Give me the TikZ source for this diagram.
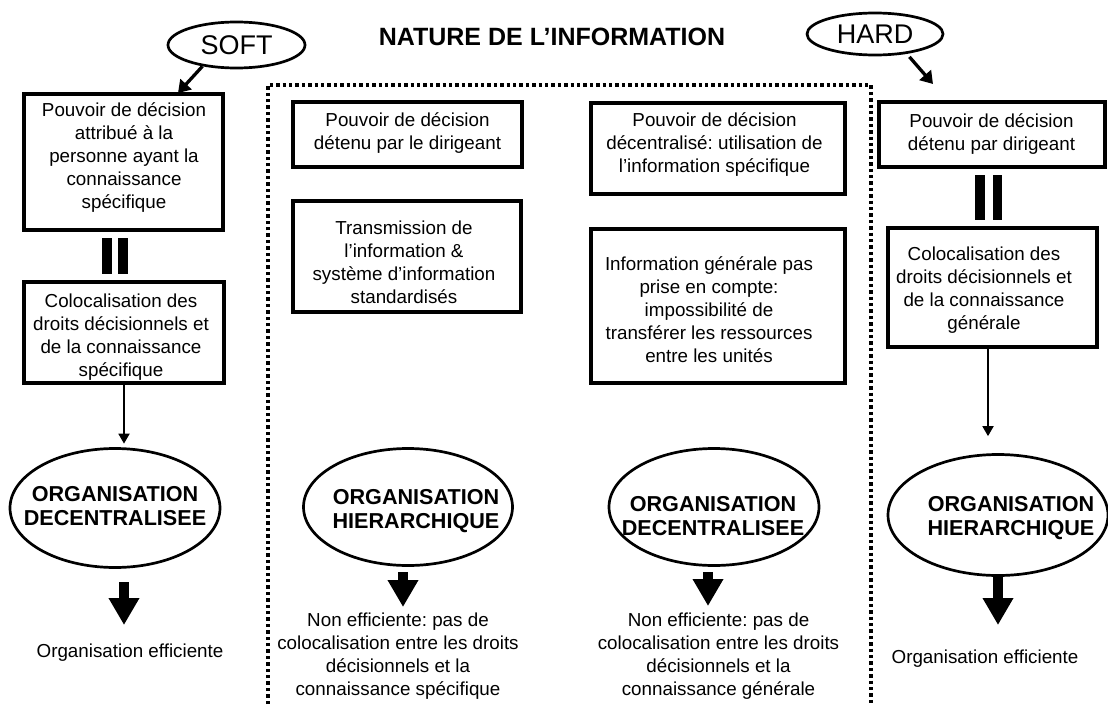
\documentclass[tikz,border=0pt]{standalone}
\usepackage{fontspec}
\setmainfont{Liberation Sans}
\usetikzlibrary{arrows.meta,shapes.geometric}
\frenchspacing
\begin{document}
\begin{tikzpicture}[x=1pt,y=-1pt,
  box/.style={draw, line width=3.3pt, rectangle, inner sep=0pt},
  body/.style={align=center, inner sep=0pt, font=\fontsize{18.8}{23}\selectfont},
  oval/.style={draw, line width=2.7pt, ellipse, inner sep=0pt},
  ovaltxt/.style={align=center, inner sep=0pt, font=\fontsize{21.6}{24}\selectfont\bfseries},
  tag/.style={draw, line width=2.7pt, ellipse, inner sep=0pt, font=\fontsize{27}{30}\selectfont},
  thinarrow/.style={line width=1.8pt, -{Triangle[width=11pt,length=10pt]}},
  tagarrow/.style={line width=3.3pt, -{Triangle[width=15pt,length=12pt]}},
  bigarrow/.style={line width=10pt, -{Triangle[width=29pt,length=27pt]}},
  frameline/.style={line width=3.4pt, dash pattern=on 3.4pt off 3pt},
  bar/.style={fill=black}
]
\useasboundingbox (0,0) rectangle (1108,704);

% title and tags
\node[inner sep=0pt, font=\fontsize{25}{28}\selectfont\bfseries] (title) at (552,37) {NATURE DE L’INFORMATION};
\node[tag, minimum width=137pt, minimum height=46pt] (soft) at (236.5,45) {SOFT};
\node[tag, minimum width=136pt, minimum height=42pt] (hard) at (875,34) {HARD};
\coordinate (softtip) at (178,93);
\coordinate (hardtip) at (933,84);

% dotted frame
\draw[frameline] (268,704) -- (268,85) -- (871,85) -- (871,704);

% ---------- left column ----------
\node[box, minimum width=199pt, minimum height=136pt] (b1) at (123.5,162) {};
\node[body] (b1t) at (124,158) {Pouvoir de décision\\attribué à la\\personne ayant la\\connaissance\\spécifique};
\fill[bar] (102,238) rectangle (112,274);
\fill[bar] (118,238) rectangle (128,274);
\node[box, minimum width=200pt, minimum height=101pt] (b2) at (124,332.5) {};
\node[body] (b2t) at (121,337) {Colocalisation des\\droits décisionnels et\\de la connaissance\\spécifique};
\node[oval, minimum width=210pt, minimum height=119pt] (e1) at (115,508) {};
\node[ovaltxt] (e1t) at (115,506) {ORGANISATION\\DECENTRALISEE};
\coordinate (a1s) at (124,582);
\coordinate (a1e) at (124,625);
\node[body] (t1) at (130,653) {Organisation efficiente};

% ---------- middle left ----------
\node[box, minimum width=229pt, minimum height=65pt] (m1a) at (407.5,134.5) {};
\node[body] (m1at) at (407.5,133.5) {Pouvoir de décision\\détenu par le dirigeant};
\node[box, minimum width=228pt, minimum height=111pt] (m1b) at (407,256.5) {};
\node[body] (m1bt) at (404,262) {Transmission de\\l’information \&\\système d’information\\standardisés};
\node[oval, minimum width=209pt, minimum height=117pt] (em1) at (408,507) {};
\node[ovaltxt] (em1t) at (416,511) {ORGANISATION\\HIERARCHIQUE};
\coordinate (am1s) at (403,572);
\coordinate (am1e) at (403,607);
\node[body] (tm1) at (398,656.5) {Non efficiente: pas de\\colocalisation entre les droits\\décisionnels et la\\connaissance spécifique};

% ---------- middle right ----------
\node[box, minimum width=254pt, minimum height=91pt] (m2a) at (718,148.5) {};
\node[body] (m2at) at (714.5,144.5) {Pouvoir de décision\\décentralisé: utilisation de\\l’information spécifique};
\node[box, minimum width=254pt, minimum height=154pt] (m2b) at (718,306) {};
\node[body] (m2bt) at (709,309.5) {Information générale pas\\prise en compte:\\impossibilité de\\transférer les ressources\\entre les unités};
\node[oval, minimum width=210pt, minimum height=117pt] (em2) at (714,507) {};
\node[ovaltxt] (em2t) at (713,516) {ORGANISATION\\DECENTRALISEE};
\coordinate (am2s) at (708,572);
\coordinate (am2e) at (708,606);
\node[body] (tm2) at (718.5,656.5) {Non efficiente: pas de\\colocalisation entre les droits\\décisionnels et la\\connaissance générale};

% ---------- right column ----------
\node[box, minimum width=226pt, minimum height=65pt] (r1) at (992,134.5) {};
\node[body] (r1t) at (991.5,134.5) {Pouvoir de décision\\détenu par dirigeant};
\fill[bar] (975,175) rectangle (985,220);
\fill[bar] (993,175) rectangle (1002,220);
\node[box, minimum width=209pt, minimum height=119pt] (r2) at (992.5,287.5) {};
\node[body] (r2t) at (984,290.5) {Colocalisation des\\droits décisionnels et\\de la connaissance\\générale};
\node[oval, minimum width=220pt, minimum height=121pt] (er) at (998,515) {};
\node[ovaltxt] (ert) at (1011,518) {ORGANISATION\\HIERARCHIQUE};
\coordinate (ars) at (998,575);
\coordinate (are) at (998,625);
\node[body] (tr) at (985,659) {Organisation efficiente};

% ---------- connectors ----------
\draw[tagarrow] (soft.212) -- (softtip);
\draw[tagarrow, shorten <=4pt] (hard.-32) -- (hardtip);
\draw[thinarrow, shorten >=3.5pt] (b2.south) -- (b2.south |- e1.north);
\draw[thinarrow, shorten >=17pt] ([xshift=-4.5pt]r2.south) -- ([xshift=-4.5pt]r2.south |- er.north);
\draw[bigarrow] (a1s) -- (a1e);
\draw[bigarrow] (am1s) -- (am1e);
\draw[bigarrow] (am2s) -- (am2e);
\draw[bigarrow] (ars) -- (are);
\end{tikzpicture}
\end{document}
